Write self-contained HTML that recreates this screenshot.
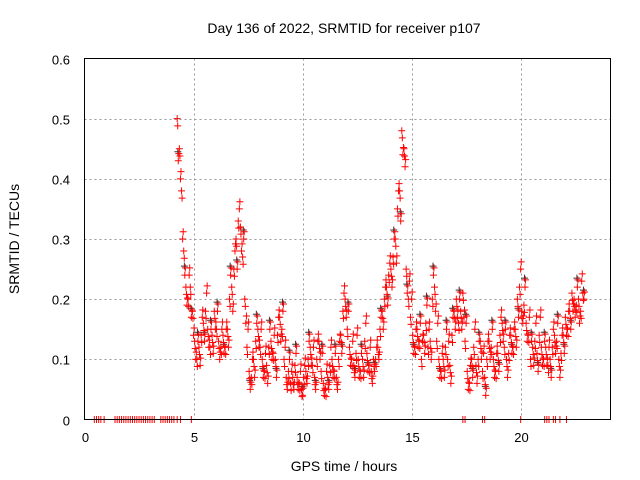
<!DOCTYPE html>
<html><head><meta charset="utf-8"><style>
body{margin:0;background:#fff;}
svg{display:block;font-family:"Liberation Sans",sans-serif;}
</style></head><body>
<svg id="chart" width="640" height="480" viewBox="0 0 640 480">
<rect width="640" height="480" fill="#fff"/>
<text x="344" y="33" font-size="14" text-anchor="middle">Day 136 of 2022, SRMTID for receiver p107</text>
<g id="grid"></g>
<g id="ticks"></g>
<g id="marks"></g>
<rect x="84.5" y="58.5" width="526" height="361" fill="none" stroke="#000" stroke-width="1"/>
<text x="344" y="471" font-size="14" text-anchor="middle">GPS time / hours</text>
<text transform="translate(19,239) rotate(-90)" font-size="14" text-anchor="middle">SRMTID / TECUs</text>
</svg>
<script>
const xTicks=[0,5,10,15,20];
const yTicks=[0,0.1,0.2,0.3,0.4,0.5,0.6];
const yTickLabels=["0","0.1","0.2","0.3","0.4","0.5","0.6"];
const tStart=4.25, tStep=0.1;
const vals1=[0.5,0.45,0.38,0.28,0.22,0.2,0.22,0.18,0.13,0.1,0.12,0.14,0.16,0.18,0.15,0.12,0.14,0.18,0.15,0.13,0.12,0.14,0.12,0.15,0.2,0.22,0.25,0.3,0.33,0.32,0.27,0.2,0.12,0.08,0.07,0.1,0.13,0.15,0.12,0.1,0.08,0.09,0.12,0.13,0.11,0.1,0.14,0.17,0.15,0.1,0.07,0.08,0.06,0.07,0.09,0.07,0.06,0.05,0.07,0.08,0.1,0.12,0.09,0.07,0.1,0.13,0.08,0.06,0.05,0.07,0.09,0.1,0.08,0.07,0.1,0.14,0.18,0.2,0.15,0.12,0.1,0.09,0.11,0.1,0.08,0.1,0.13,0.11,0.09,0.08,0.1,0.1,0.12,0.15,0.18,0.2,0.22,0.24,0.25,0.27,0.3,0.35,0.38,0.48,0.45,0.25,0.2,0.17,0.14,0.12,0.15,0.13,0.1,0.14,0.16,0.12,0.13,0.2,0.22,0.13,0.1,0.08,0.1,0.12,0.1,0.09,0.14,0.18,0.2,0.16,0.18,0.21,0.13,0.08,0.06,0.1,0.12,0.09,0.1,0.13,0.08,0.07,0.1,0.13,0.12,0.1,0.08,0.11,0.14,0.16,0.12,0.1,0.11,0.14,0.12,0.15,0.2,0.22,0.18,0.19,0.16,0.14,0.1,0.12,0.13,0.11,0.14,0.12,0.1,0.12,0.09,0.1,0.12,0.14,0.13,0.1,0.11,0.14,0.17,0.15,0.18,0.21,0.2,0.19,0.2,0.18,0.21];
const vals2=[0.43,0.4,0.3,0.24,0.19,0.24,0.17,0.14,0.1,0.13,0.09,0.17,0.13,0.21,0.12,0.15,0.11,0.15,0.18,0.1,0.15,0.11,0.15,0.12,0.24,0.18,0.28,0.25,0.35,0.28,0.3,0.16,0.15,0.05,0.1,0.07,0.16,0.12,0.15,0.07,0.11,0.06,0.15,0.1,0.14,0.07,0.17,0.13,0.18,0.12,0.05,0.1,0.08,0.05,0.11,0.05,0.08,0.04,0.09,0.06,0.13,0.09,0.12,0.05,0.13,0.1,0.11,0.04,0.08,0.05,0.12,0.07,0.11,0.05,0.13,0.11,0.21,0.17,0.18,0.09,0.13,0.07,0.14,0.07,0.11,0.07,0.16,0.08,0.12,0.06,0.08,0.12,0.1,0.17,0.15,0.22,0.19,0.26,0.22,0.3,0.26,0.38,0.33,0.44,0.42,0.21,0.23,0.2,0.11,0.15,0.12,0.16,0.13,0.11,0.19,0.15,0.1,0.24,0.18,0.16,0.07,0.11,0.07,0.15,0.13,0.06,0.17,0.15,0.17,0.2,0.15,0.17,0.16,0.05,0.09,0.07,0.15,0.06,0.13,0.1,0.11,0.04,0.13,0.1,0.15,0.07,0.11,0.08,0.17,0.13,0.15,0.07,0.14,0.11,0.15,0.12,0.17,0.25,0.16,0.22,0.13,0.17,0.13,0.09,0.16,0.08,0.17,0.09,0.13,0.09,0.12,0.07,0.15,0.11,0.16,0.07,0.14,0.11,0.14,0.18,0.15,0.18,0.17,0.22,0.16,0.23,0.2];
const zeroTimes=[0.45,0.55,0.65,0.75,0.9,1.4,1.5,1.6,1.7,1.8,1.9,2.0,2.1,2.2,2.3,2.4,2.5,2.6,2.7,2.8,2.9,3.0,3.1,3.2,3.5,3.6,3.7,3.8,3.9,4.0,4.1,4.25,4.4,4.9,17.35,17.45,18.25,18.35,20.0,21.1,21.2,21.3,21.5,21.6,21.8,22.1];

const NS='http://www.w3.org/2000/svg';
const X0=84.5,X1=610.5,Y0=419.5,Y1=58.5,XMAX=24.12,YMAX=0.6;
function xs(t){return X0+(X1-X0)*t/XMAX;}
function ys(v){return Y0-(Y0-Y1)*v/YMAX;}
function mk(tag,attrs,parent){const e=document.createElementNS(NS,tag);for(const k in attrs)e.setAttribute(k,attrs[k]);parent.appendChild(e);return e;}
const grid=document.getElementById('grid'),ticks=document.getElementById('ticks'),marks=document.getElementById('marks');
xTicks.forEach(t=>{
 const x=Math.round(xs(t))+0.5;
 if(t>0){const g=mk('line',{x1:x,x2:x,y1:Y1,y2:Y0,stroke:'#999','stroke-dasharray':'2,3'},grid);
 
 }
 const l=mk('text',{x:x,y:442,'font-size':13,'text-anchor':'middle'},ticks);l.textContent=String(t);
 
 
});
yTicks.forEach((v,i)=>{
 const y=Math.round(ys(v))+0.5;
 if(v>0&&v<YMAX){const g=mk('line',{x1:X0,x2:X1,y1:y,y2:y,stroke:'#999','stroke-dasharray':'2,3'},grid);
 
 }
 const l=mk('text',{x:70,y:y+5,'font-size':13,'text-anchor':'end'},ticks);l.textContent=yTickLabels[i];
 
 
});
function plus(t,v,color){
 const x=xs(t),y=ys(v);
 const p=mk('path',{d:`M${x-3.5} ${y}h7M${x} ${y-3.5}v7`,stroke:color,'stroke-width':1,fill:'none'},marks);
 
 
}
vals2.forEach((v,i)=>{if(i%3===0)plus(tStart+i*tStep+0.03,v+0.015,'#333');});
vals1.forEach((v,i)=>{plus(tStart+i*tStep,v,'#f00');plus(tStart+i*tStep+0.025,v-0.012,'#f00');});
vals2.forEach((v,i)=>{plus(tStart+i*tStep+0.05,v,'#f00');plus(tStart+i*tStep+0.075,v+0.012,'#f00');});
zeroTimes.forEach(t=>plus(t,0,'#f00'));
</script>
</body></html>
